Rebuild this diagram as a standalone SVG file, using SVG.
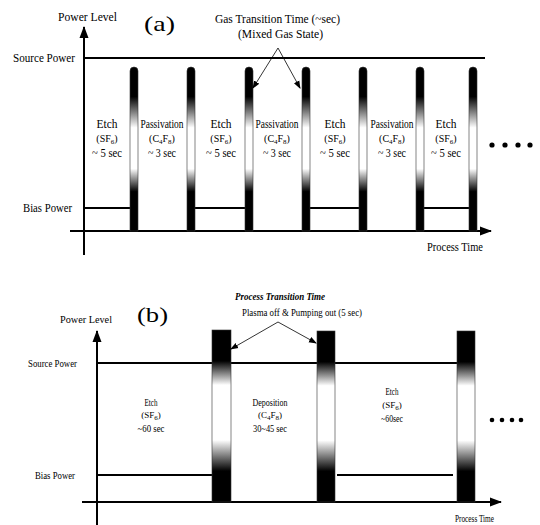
<svg xmlns="http://www.w3.org/2000/svg" width="540" height="525" viewBox="0 0 540 525">
<defs>
<linearGradient id="ga" x1="0" y1="0" x2="0" y2="1">
<stop offset="0" stop-color="#000"/>
<stop offset="0.18" stop-color="#000"/>
<stop offset="0.37" stop-color="#fff"/>
<stop offset="0.62" stop-color="#fff"/>
<stop offset="0.76" stop-color="#000"/>
<stop offset="1" stop-color="#000"/>
</linearGradient>
<linearGradient id="gb" x1="0" y1="0" x2="0" y2="1">
<stop offset="0" stop-color="#000"/>
<stop offset="0.18" stop-color="#000"/>
<stop offset="0.32" stop-color="#fff"/>
<stop offset="0.64" stop-color="#fff"/>
<stop offset="0.82" stop-color="#000"/>
<stop offset="1" stop-color="#000"/>
</linearGradient>
<marker id="ah" markerUnits="userSpaceOnUse" markerWidth="8" markerHeight="8" refX="7" refY="4" orient="auto"><path d="M0,1 L8,4 L0,7 Z" fill="#000"/></marker>
<marker id="axh" markerUnits="userSpaceOnUse" markerWidth="12" markerHeight="10" refX="11" refY="5" orient="auto"><path d="M0,0.5 L12,5 L0,9.5 Z" fill="#000"/></marker>
</defs>
<style>
text{font-family:"Liberation Serif","Times New Roman",serif;fill:#000}
.ax{stroke:#000;stroke-width:2;fill:none;marker-end:url(#axh)}
.ln{stroke:#000;stroke-width:2;fill:none}
.ar{stroke:#000;stroke-width:0.8;fill:none;marker-end:url(#ah)}
.ba{fill:url(#ga);stroke:#333;stroke-width:0.6}
.bb{fill:url(#gb);stroke:#333;stroke-width:0.6}
.la{font-size:12px;text-anchor:middle}
.lb{font-size:10px;text-anchor:middle}
.sa{font-size:10px;text-anchor:middle}
.sb{font-size:9px;text-anchor:middle}
.sub{font-size:7px}
.dot{fill:#000}
</style>

<g id="panel-a">
<g id="a-axes">
<line class="ax" x1="84" y1="255" x2="84" y2="27"/>
<line class="ax" x1="70" y1="231" x2="491" y2="231"/>
</g>
<g id="a-levels">
<line class="ln" x1="84" y1="58" x2="485" y2="58"/>
<line class="ln" x1="84" y1="208" x2="130" y2="208"/>
<line class="ln" x1="195" y1="208" x2="245" y2="208"/>
<line class="ln" x1="310" y1="208" x2="359" y2="208"/>
<line class="ln" x1="424" y1="208" x2="469" y2="208"/>
</g>
<g id="a-bars">
<path class="ba" d="M130,71 a4,4 0 0 1 8,0 V231 H130 Z"/>
<path class="ba" d="M187,71 a4,4 0 0 1 8,0 V231 H187 Z"/>
<path class="ba" d="M245,71 a4,4 0 0 1 8,0 V231 H245 Z"/>
<path class="ba" d="M302,71 a4,4 0 0 1 8,0 V231 H302 Z"/>
<path class="ba" d="M359,71 a4,4 0 0 1 8,0 V231 H359 Z"/>
<path class="ba" d="M416,71 a4,4 0 0 1 8,0 V231 H416 Z"/>
<path class="ba" d="M469,71 a4,4 0 0 1 8,0 V231 H469 Z"/>
</g>
<g id="a-titles">
<text x="58" y="21" font-size="12" textLength="59" lengthAdjust="spacingAndGlyphs">Power Level</text>
<text x="144" y="31" font-size="22" textLength="31" lengthAdjust="spacingAndGlyphs">(a)</text>
<text x="13" y="62" font-size="12" textLength="62" lengthAdjust="spacingAndGlyphs">Source Power</text>
<text x="23" y="212" font-size="12" textLength="49" lengthAdjust="spacingAndGlyphs">Bias Power</text>
<text x="427" y="251" font-size="12" textLength="56" lengthAdjust="spacingAndGlyphs">Process Time</text>
<text x="215" y="23" font-size="12" textLength="125" lengthAdjust="spacingAndGlyphs">Gas Transition Time (~sec)</text>
<text x="238" y="38" font-size="12" textLength="85" lengthAdjust="spacingAndGlyphs">(Mixed Gas State)</text>
</g>
<g id="a-etch-1">
<text class="la" x="107" y="128" textLength="21" lengthAdjust="spacingAndGlyphs">Etch</text>
<text class="sa" x="107" y="142">(SF<tspan class="sub" dy="2">6</tspan><tspan dy="-2">)</tspan></text>
<text class="la" x="107" y="157" textLength="30" lengthAdjust="spacingAndGlyphs">~ 5 sec</text>
</g>
<g id="a-pass-1">
<text class="la" x="162" y="128" textLength="43" lengthAdjust="spacingAndGlyphs">Passivation</text>
<text class="sa" x="162" y="142">(C<tspan class="sub" dy="2">4</tspan><tspan dy="-2">F</tspan><tspan class="sub" dy="2">8</tspan><tspan dy="-2">)</tspan></text>
<text class="la" x="162" y="157" textLength="28" lengthAdjust="spacingAndGlyphs">~ 3 sec</text>
</g>
<g id="a-etch-2">
<text class="la" x="221" y="128" textLength="21" lengthAdjust="spacingAndGlyphs">Etch</text>
<text class="sa" x="221" y="142">(SF<tspan class="sub" dy="2">6</tspan><tspan dy="-2">)</tspan></text>
<text class="la" x="221" y="157" textLength="30" lengthAdjust="spacingAndGlyphs">~ 5 sec</text>
</g>
<g id="a-pass-2">
<text class="la" x="277" y="128" textLength="43" lengthAdjust="spacingAndGlyphs">Passivation</text>
<text class="sa" x="277" y="142">(C<tspan class="sub" dy="2">4</tspan><tspan dy="-2">F</tspan><tspan class="sub" dy="2">8</tspan><tspan dy="-2">)</tspan></text>
<text class="la" x="277" y="157" textLength="28" lengthAdjust="spacingAndGlyphs">~ 3 sec</text>
</g>
<g id="a-etch-3">
<text class="la" x="335" y="128" textLength="21" lengthAdjust="spacingAndGlyphs">Etch</text>
<text class="sa" x="335" y="142">(SF<tspan class="sub" dy="2">6</tspan><tspan dy="-2">)</tspan></text>
<text class="la" x="335" y="157" textLength="30" lengthAdjust="spacingAndGlyphs">~ 5 sec</text>
</g>
<g id="a-pass-3">
<text class="la" x="392" y="128" textLength="43" lengthAdjust="spacingAndGlyphs">Passivation</text>
<text class="sa" x="392" y="142">(C<tspan class="sub" dy="2">4</tspan><tspan dy="-2">F</tspan><tspan class="sub" dy="2">8</tspan><tspan dy="-2">)</tspan></text>
<text class="la" x="392" y="157" textLength="28" lengthAdjust="spacingAndGlyphs">~ 3 sec</text>
</g>
<g id="a-etch-4">
<text class="la" x="446" y="128" textLength="21" lengthAdjust="spacingAndGlyphs">Etch</text>
<text class="sa" x="446" y="142">(SF<tspan class="sub" dy="2">6</tspan><tspan dy="-2">)</tspan></text>
<text class="la" x="446" y="157" textLength="30" lengthAdjust="spacingAndGlyphs">~ 5 sec</text>
</g>
<g id="a-dots">
<circle class="dot" cx="492" cy="145" r="2.6"/>
<circle class="dot" cx="505" cy="145" r="2.6"/>
<circle class="dot" cx="518" cy="145" r="2.6"/>
<circle class="dot" cx="530" cy="145" r="2.6"/>
</g>
</g>

<g id="panel-b">
<g id="b-axes">
<line class="ax" x1="97" y1="525" x2="97" y2="331"/>
<line class="ax" x1="82" y1="502" x2="501" y2="502"/>
</g>
<g id="b-levels">
<line class="ln" x1="97" y1="363" x2="212" y2="363"/>
<line class="ln" x1="231" y1="363" x2="317" y2="363"/>
<line class="ln" x1="335" y1="363" x2="457" y2="363"/>
<line class="ln" x1="97" y1="475" x2="212" y2="475"/>
<line class="ln" x1="337" y1="475" x2="453" y2="475"/>
</g>
<g id="b-bars">
<rect class="bb" x="212" y="330" width="19" height="172"/>
<rect class="bb" x="317" y="331" width="18" height="171"/>
<rect class="bb" x="457" y="331" width="18" height="171"/>
</g>
<g id="b-titles">
<text x="60" y="323" font-size="10" textLength="52" lengthAdjust="spacingAndGlyphs">Power Level</text>
<text x="137" y="322" font-size="21" textLength="31" lengthAdjust="spacingAndGlyphs">(b)</text>
<text x="28" y="367" font-size="10" textLength="49" lengthAdjust="spacingAndGlyphs">Source Power</text>
<text x="35" y="479" font-size="10" textLength="40" lengthAdjust="spacingAndGlyphs">Bias Power</text>
<text x="455" y="522" font-size="10" textLength="39" lengthAdjust="spacingAndGlyphs">Process Time</text>
<text x="235" y="300" font-size="11" font-style="italic" font-weight="bold" textLength="90" lengthAdjust="spacingAndGlyphs">Process Transition Time</text>
<text x="242" y="316" font-size="11" textLength="120" lengthAdjust="spacingAndGlyphs">Plasma off &amp; Pumping out (5 sec)</text>
</g>
<g id="b-etch-1">
<text class="lb" x="151" y="406" textLength="13" lengthAdjust="spacingAndGlyphs">Etch</text>
<text class="sb" x="151" y="418">(SF<tspan class="sub" dy="2">6</tspan><tspan dy="-2">)</tspan></text>
<text class="lb" x="151" y="432" textLength="27" lengthAdjust="spacingAndGlyphs">~60 sec</text>
</g>
<g id="b-dep">
<text class="lb" x="270" y="406" textLength="35" lengthAdjust="spacingAndGlyphs">Deposition</text>
<text class="sb" x="270" y="418">(C<tspan class="sub" dy="2">4</tspan><tspan dy="-2">F</tspan><tspan class="sub" dy="2">8</tspan><tspan dy="-2">)</tspan></text>
<text class="lb" x="270" y="432" textLength="34" lengthAdjust="spacingAndGlyphs">30~45 sec</text>
</g>
<g id="b-etch-2">
<text class="lb" x="392" y="395" textLength="13" lengthAdjust="spacingAndGlyphs">Etch</text>
<text class="sb" x="392" y="408">(SF<tspan class="sub" dy="2">6</tspan><tspan dy="-2">)</tspan></text>
<text class="lb" x="392" y="422" textLength="22" lengthAdjust="spacingAndGlyphs">~60sec</text>
</g>
<g id="b-dots">
<circle class="dot" cx="492" cy="420" r="2.3"/>
<circle class="dot" cx="502" cy="420" r="2.3"/>
<circle class="dot" cx="512" cy="420" r="2.3"/>
<circle class="dot" cx="521" cy="420" r="2.3"/>
</g>
</g>

<g id="connectors">
<line class="ar" x1="278" y1="48" x2="253" y2="88"/>
<line class="ar" x1="278" y1="48" x2="300" y2="88"/>
<line class="ar" x1="278" y1="322" x2="231" y2="349"/>
<line class="ar" x1="278" y1="322" x2="316" y2="343"/>
</g>
</svg>
